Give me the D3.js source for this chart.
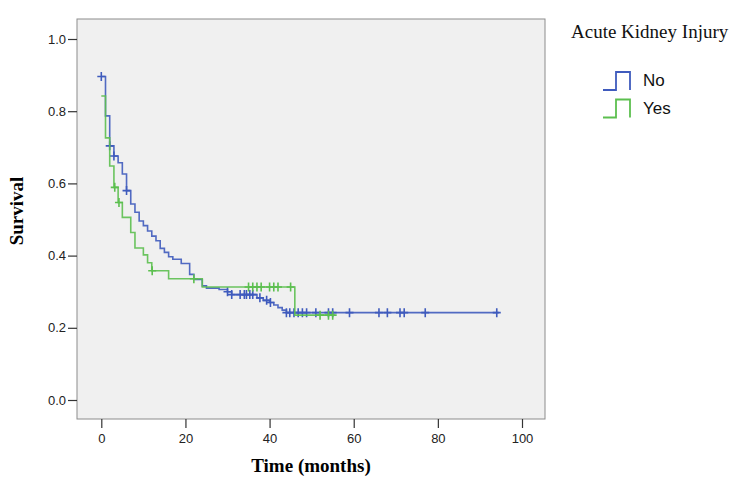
<!DOCTYPE html>
<html>
<head>
<meta charset="utf-8">
<script src="https://cdn.jsdelivr.net/npm/d3@7"></script>
<style>
  html, body { margin: 0; padding: 0; background: #fff; }
  #content { width: 736px; height: 487px; }
</style>
</head>
<body>
<div id="content"></div>
<script>
// Kaplan-Meier steps: time (months) and survival after the drop
var noTimes = [0, 1, 2, 3, 4, 5, 6, 7, 8, 9, 10, 11, 12, 13, 14, 15, 16, 17, 19, 21, 22, 24, 25, 28, 30, 31, 37, 38.5, 40, 41, 42, 43, 44];
var noSurv  = [0.896, 0.787, 0.704, 0.676, 0.657, 0.626, 0.580, 0.543, 0.520, 0.496, 0.483, 0.468, 0.454, 0.441, 0.420, 0.409, 0.397, 0.390, 0.378, 0.348, 0.334, 0.316, 0.310, 0.306, 0.300, 0.292, 0.283, 0.276, 0.270, 0.263, 0.256, 0.249, 0.242];
var noEnd = 94.5;
var noCensored = [0, 2, 3, 6, 30, 31, 33, 34, 34.5, 35.3, 36, 37.7, 39.3, 40.2, 44, 44.8, 45.8, 46.8, 47.8, 48.8, 51, 54, 55, 59, 66, 68, 71, 72, 77, 94];

var yesTimes = [0, 1, 2, 3, 4, 5, 7, 8, 10, 11, 12, 16, 24, 46];
var yesSurv  = [0.842, 0.726, 0.648, 0.589, 0.547, 0.506, 0.464, 0.421, 0.402, 0.380, 0.358, 0.336, 0.313, 0.235];
var yesEnd = 55.5;
var yesCensored = [3.2, 4.2, 12.1, 22, 35, 36, 37, 38, 40, 41, 42, 45, 52, 54, 55];

var xTicks = [0, 20, 40, 60, 80, 100];
var yTicks = [0, 0.2, 0.4, 0.6, 0.8, 1.0];
var groups = ['No', 'Yes'];
var colors = ['#3f5bbd', '#5cbf4f'];

var svg = d3.select('div#content').append('svg')
  .attr('width', 736)
  .attr('height', 487);

var x = d3.scaleLinear().domain([0, 100]).range([101.3, 522]);
var y = d3.scaleLinear().domain([0, 1]).range([400, 39]);

// plot box
svg.append('rect')
  .attr('x', 77).attr('y', 19)
  .attr('width', 468).attr('height', 400)
  .attr('fill', '#f0f0f0')
  .attr('stroke', '#8c8c8c')
  .attr('stroke-width', 1);

var yAxis = svg.append('g')
  .attr('transform', 'translate(77,0)')
  .call(d3.axisLeft(y).tickValues(yTicks).tickFormat(d3.format('.1f')).tickSize(9).tickPadding(2));
var xAxis = svg.append('g')
  .attr('transform', 'translate(0,419)')
  .call(d3.axisBottom(x).tickValues(xTicks).tickFormat(d3.format('d')).tickSize(9).tickPadding(6));
[yAxis, xAxis].forEach(function(a){
  a.select('.domain').remove();
  a.selectAll('line').attr('stroke', '#333').attr('stroke-width', 1.2);
  a.selectAll('text')
    .attr('fill', '#222')
    .style('font-family', 'Liberation Sans, Arial, sans-serif')
    .style('font-size', '13px');
});

var line = d3.line()
  .x(function(d){ return x(d[0]); })
  .y(function(d){ return y(d[1]); })
  .curve(d3.curveStepAfter);

// survival value at time t (step function)
function survAt(times, surv, t){
  var v = surv[0];
  for (var i = 0; i < times.length; i++) {
    if (times[i] <= t) v = surv[i];
  }
  return v;
}

function drawCurve(times, surv, end, censored, color){
  var pts = times.map(function(t, i){ return [t, surv[i]]; });
  pts.push([end, surv[surv.length - 1]]);
  svg.append('path')
    .attr('d', line(pts))
    .attr('fill', 'none')
    .attr('stroke', color)
    .attr('stroke-width', 1.6)
    .attr('stroke-opacity', 0.9);
  var g = svg.append('g');
  censored.forEach(function(t){
    var cx = x(t), cy = y(survAt(times, surv, t));
    g.append('path')
      .attr('d', 'M' + (cx - 4) + ',' + cy + 'H' + (cx + 4) + 'M' + cx + ',' + (cy - 4.5) + 'V' + (cy + 4.5))
      .attr('stroke', color)
      .attr('stroke-width', 1.6)
      .attr('fill', 'none');
  });
}

drawCurve(noTimes, noSurv, noEnd, noCensored, colors[0]);
drawCurve(yesTimes, yesSurv, yesEnd, yesCensored, colors[1]);

// axis titles
svg.append('text')
  .attr('x', 311).attr('y', 472)
  .attr('text-anchor', 'middle')
  .style('font-family', 'Liberation Serif, Times New Roman, serif')
  .style('font-weight', 'bold')
  .style('font-size', '19px')
  .text('Time (months)');
svg.append('text')
  .attr('transform', 'translate(23,211) rotate(-90)')
  .attr('text-anchor', 'middle')
  .style('font-family', 'Liberation Serif, Times New Roman, serif')
  .style('font-weight', 'bold')
  .style('font-size', '19px')
  .text('Survival');

// legend
svg.append('text')
  .attr('x', 571).attr('y', 38)
  .style('font-family', 'Liberation Serif, Times New Roman, serif')
  .style('font-size', '19px')
  .attr('fill', '#111')
  .text('Acute Kidney Injury');

groups.forEach(function(name, i){
  var top = 72 + i * 27.5, bot = top + 18;
  svg.append('path')
    .attr('d', 'M603,' + bot + 'H616V' + top + 'H630V' + bot)
    .attr('fill', 'none')
    .attr('stroke', colors[i])
    .attr('stroke-width', 1.8);
  svg.append('text')
    .attr('x', 643).attr('y', bot - 4)
    .style('font-family', 'Liberation Sans, Arial, sans-serif')
    .style('font-size', '17px')
    .attr('fill', '#111')
    .text(name);
});
</script>
</body>
</html>
